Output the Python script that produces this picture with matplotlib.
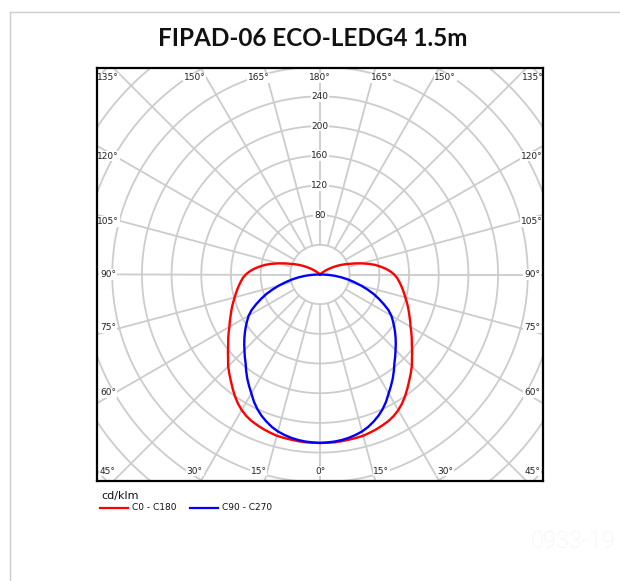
import numpy as np
import matplotlib.pyplot as plt
from matplotlib.lines import Line2D

# 数据：光强分布 (cd/klm)，gamma 角从 0° (向下) 到 180° (向上)，步长 2.5°
gamma = [i * 2.5 for i in range(73)]
c0_c180 = [227, 227, 227, 226.5, 226, 225.5, 225, 223.5, 222, 220,
           218, 215, 211, 206, 200, 193.5, 187, 181, 175, 168,
           162, 156, 151, 146, 141, 137, 133, 129.5, 126, 122.5,
           119, 116, 113, 110, 107, 104, 100, 95, 89, 82,
           75, 66.5, 58, 50, 42, 36, 30, 24.5, 19, 14,
           10, 6.5, 4, 2, 1, 0, 0, 0, 0, 0,
           0, 0, 0, 0, 0, 0, 0, 0, 0, 0,
           0, 0, 0]
c90_c270 = [227, 226.5, 226, 225, 223.5, 221.5, 219, 215.5, 211, 206,
            200, 193, 185, 178, 171, 163.5, 156, 150, 144, 138.5,
            133, 127.5, 122, 116.5, 111, 104, 95, 86, 77, 67,
            57, 47, 38, 29, 20, 11, 3, 0, 0, 0,
            0, 0, 0, 0, 0, 0, 0, 0, 0, 0,
            0, 0, 0, 0, 0, 0, 0, 0, 0, 0,
            0, 0, 0, 0, 0, 0, 0, 0, 0, 0,
            0, 0, 0]
series_names = ['C0 - C180', 'C90 - C270']
series_colors = ['#ff0000', '#0000ff']
ring_values = [40, 80, 120, 160, 200, 240, 280, 320, 360, 400]
ring_labels = [80, 120, 160, 200, 240]
angle_ticks = list(range(0, 181, 15))

FW, FH = 620, 581
PX = 1 / 0.742  # 每像素对应的数据单位


def fx(x):
    return x / FW


def fy(y):
    return 1 - y / FH


fig = plt.figure(figsize=(FW / 100, FH / 100), dpi=100)
ax = fig.add_axes([fx(97), fy(481), 446 / FW, 413 / FH])
W = 223 * PX
H = 206.5 * PX
ax.set_xlim(-W, W)
ax.set_ylim(-H, H)
ax.set_xticks([])
ax.set_yticks([])
for sp in ax.spines.values():
    sp.set_linewidth(1.6)
    sp.set_color('black')
    sp.set_zorder(10)

grid_c = '#cccccc'
t = np.linspace(0, 2 * np.pi, 721)
for r in ring_values:
    ax.plot(r * np.cos(t), r * np.sin(t), color=grid_c, lw=1.3, zorder=1)
for a in range(0, 360, 15):
    ar = np.radians(a)
    ax.plot([40 * np.sin(ar), 600 * np.sin(ar)], [-40 * np.cos(ar), -600 * np.cos(ar)],
            color=grid_c, lw=1.3, zorder=1)

# 径向刻度
for v in ring_labels:
    ax.text(0, v, str(v), ha='center', va='center', fontsize=6.5, color='#222222', zorder=4,
            bbox=dict(facecolor='white', edgecolor='none', pad=0.6))

# 角度标签
for a in angle_ticks:
    sides = [1] if a in (0, 180) else [1, -1]
    for s in sides:
        ar = np.radians(a)
        dx = s * np.sin(ar)
        dy = -np.cos(ar)
        if abs(dy) * W >= abs(dx) * H:
            tt = H / abs(dy)
            x = dx * tt + np.sign(dx) * 6 * PX
            if abs(dx) < 1e-9:
                x = 0
            y = np.sign(dy) * (H - 10 * PX)
        else:
            xi = W - 11 * PX
            x = np.sign(dx) * xi
            y = dy / abs(dx) * xi
            if abs(y) > 1:
                y = y - np.sign(y) * 4 * PX
        ax.text(x, y, '%d°' % a, ha='center', va='center', fontsize=6.5, color='#222222', zorder=4,
                bbox=dict(facecolor='white', edgecolor='none', pad=0.6))

# 曲线
g = np.radians(np.array(gamma))
for vals, col in zip([c0_c180, c90_c270], series_colors):
    r = np.array(vals, dtype=float)
    x = r * np.sin(g)
    y = -r * np.cos(g)
    xx = np.concatenate([-x[::-1], x])
    yy = np.concatenate([y[::-1], y])
    ax.plot(xx, yy, color=col, lw=1.7, zorder=5, solid_joinstyle='round', solid_capstyle='round')

# 标题
fig.text(fx(312.5), fy(39), 'FIPAD-06 ECO-LEDG4 1.5m', ha='center', va='center',
         fontsize=17.5, fontweight='bold', family='Lato', color='#111111')

# 图例
fig.text(fx(101), fy(495.5), 'cd/klm', ha='left', va='center', fontsize=8, color='#111111')
leg_x = [100, 190]
for i in range(2):
    fig.add_artist(Line2D([fx(leg_x[i]), fx(leg_x[i] + 28)], [fy(508), fy(508)],
                          color=series_colors[i], lw=1.6))
    fig.text(fx(leg_x[i] + 32), fy(508), series_names[i], ha='left', va='center',
             fontsize=6.5, color='#111111')

# 水印
fig.text(fx(573), fy(541), '0933-19', ha='center', va='center', fontsize=17,
         family='Roboto', fontweight='light', color='#f1f1f1')

# 外框
fig.add_artist(Line2D([fx(10), 1], [fy(12), fy(12)], color='#cccccc', lw=1))
fig.add_artist(Line2D([fx(10), fx(10)], [fy(12), 0], color='#cccccc', lw=1))

fig.savefig('out.png', dpi=100)
